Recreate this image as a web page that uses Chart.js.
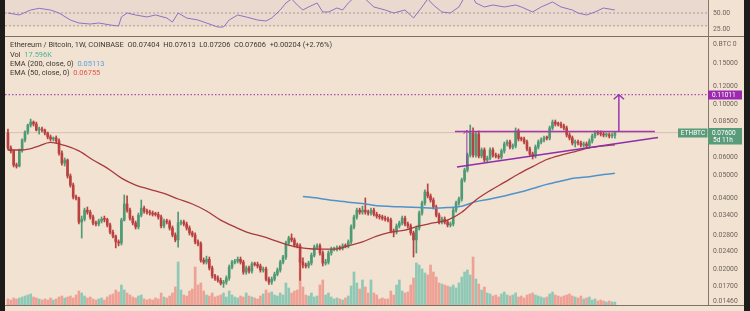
<!DOCTYPE html>
<html>
<head>
<meta charset="utf-8">
<title>ETHBTC 1W</title>
<script src="https://cdn.jsdelivr.net/npm/chart.js@4.4.1/dist/chart.umd.min.js"></script>
<style>
    body { margin: 0; width: 750px; height: 311px; background: #1d1c1b; position: relative; overflow: hidden; font-family: Roboto, "Liberation Sans", sans-serif; }
    canvas { display: block; }
    #frame { position: absolute; left: 5px; top: 0; width: 739px; height: 311px; background: #f1e2d2; }
    #rsiWrap { position: absolute; left: 5px; top: 0; }
    #mainWrap { position: absolute; left: 5px; top: 36px; }
    .hline { position: absolute; left: 5px; width: 739px; height: 1px; background: #7f7168; }
    #legend { position: absolute; left: 10px; top: 40.4px; font-size: 7.45px; line-height: 9.2px; color: #3c3835; white-space: pre; }
</style>
</head>
<body>
<div id="frame"></div>
<div id="rsiWrap"><canvas id="rsiChart" width="739" height="36"></canvas></div>
<div id="mainWrap"><canvas id="priceChart" width="739" height="275"></canvas></div>
<div class="hline" style="top:36px"></div>
<div class="hline" style="top:305px"></div>
<div id="legend"><div>Ethereum / Bitcoin, 1W, COINBASE  O0.07404  H0.07613  L0.07206  C0.07606  +0.00204 (+2.76%)</div><div>Vol  <span style="color:#4fb39b">17.596K</span></div><div>EMA (200, close, 0)  <span style="color:#5b9fe0">0.05113</span></div><div>EMA (50, close, 0)  <span style="color:#e0554e">0.06755</span></div></div>

<script>
// weekly candles, one entry per week (index = week number on the x axis)
const opens = [
    0.0758, 0.0655, 0.0636, 0.0554, 0.0549, 0.0642, 0.0708, 0.0765, 0.0819, 0.0843,
    0.0827, 0.0780, 0.0788, 0.0780, 0.0758, 0.0729, 0.0715, 0.0722, 0.0701, 0.0623,
    0.0565, 0.0582, 0.0498, 0.0456, 0.0406, 0.0402, 0.0318, 0.0327, 0.0357, 0.0350,
    0.0334, 0.0315, 0.0312, 0.0321, 0.0327, 0.0326, 0.0309, 0.0288, 0.0277, 0.0262,
    0.0259, 0.0324, 0.0379, 0.0357, 0.0330, 0.0315, 0.0303, 0.0340, 0.0364, 0.0354,
    0.0350, 0.0347, 0.0343, 0.0342, 0.0334, 0.0306, 0.0321, 0.0318, 0.0300, 0.0280,
    0.0267, 0.0315, 0.0318, 0.0312, 0.0300, 0.0286, 0.0280, 0.0262, 0.0257, 0.0219,
    0.0215, 0.0221, 0.0203, 0.0188, 0.0184, 0.0180, 0.0175, 0.0177, 0.0184, 0.0205,
    0.0215, 0.0217, 0.0221, 0.0215, 0.0195, 0.0203, 0.0197, 0.0211, 0.0210, 0.0207,
    0.0199, 0.0201, 0.0182, 0.0177, 0.0182, 0.0191, 0.0199, 0.0215, 0.0226, 0.0259,
    0.0272, 0.0267, 0.0254, 0.0252, 0.0215, 0.0209, 0.0207, 0.0213, 0.0230, 0.0249,
    0.0252, 0.0235, 0.0213, 0.0215, 0.0235, 0.0244, 0.0245, 0.0247, 0.0246, 0.0252,
    0.0251, 0.0262, 0.0303, 0.0334, 0.0357, 0.0350, 0.0357, 0.0351, 0.0347, 0.0357,
    0.0343, 0.0337, 0.0334, 0.0330, 0.0327, 0.0324, 0.0291, 0.0288, 0.0306, 0.0315,
    0.0330, 0.0312, 0.0306, 0.0286, 0.0267, 0.0300, 0.0347, 0.0383, 0.0426, 0.0410,
    0.0394, 0.0368, 0.0340, 0.0318, 0.0327, 0.0318, 0.0309, 0.0312, 0.0357, 0.0383,
    0.0398, 0.0479, 0.0528, 0.0611, 0.0758, 0.0611, 0.0750, 0.0605, 0.0642, 0.0582,
    0.0594, 0.0642, 0.0611, 0.0605, 0.0599, 0.0636, 0.0681, 0.0694, 0.0661, 0.0668,
    0.0773, 0.0715, 0.0714, 0.0694, 0.0648, 0.0617, 0.0605, 0.0661, 0.0694, 0.0708,
    0.0722, 0.0721, 0.0796, 0.0843, 0.0827, 0.0826, 0.0811, 0.0796, 0.0743, 0.0722,
    0.0687, 0.0694, 0.0688, 0.0674, 0.0681, 0.0668, 0.0701, 0.0736, 0.0758, 0.0757,
    0.0750, 0.0743, 0.0744, 0.0736, 0.07404
];
const highs = [
    0.0788, 0.0668, 0.0642, 0.0565, 0.0648, 0.0715, 0.0773, 0.0827, 0.0868, 0.0852,
    0.0843, 0.0803, 0.0803, 0.0788, 0.0765, 0.0743, 0.0729, 0.0736, 0.0715, 0.0636,
    0.0594, 0.0588, 0.0508, 0.0465, 0.0414, 0.0406, 0.0337, 0.0364, 0.0368, 0.0357,
    0.0340, 0.0321, 0.0327, 0.0334, 0.0337, 0.0330, 0.0315, 0.0294, 0.0280, 0.0267,
    0.0330, 0.0414, 0.0410, 0.0364, 0.0337, 0.0321, 0.0347, 0.0394, 0.0371, 0.0361,
    0.0357, 0.0354, 0.0350, 0.0350, 0.0340, 0.0327, 0.0327, 0.0324, 0.0306, 0.0286,
    0.0350, 0.0324, 0.0324, 0.0318, 0.0306, 0.0291, 0.0286, 0.0267, 0.0262, 0.0224,
    0.0228, 0.0226, 0.0207, 0.0191, 0.0188, 0.0184, 0.0180, 0.0188, 0.0209, 0.0219,
    0.0221, 0.0226, 0.0226, 0.0219, 0.0207, 0.0207, 0.0215, 0.0215, 0.0215, 0.0211,
    0.0205, 0.0205, 0.0186, 0.0186, 0.0195, 0.0203, 0.0219, 0.0230, 0.0264, 0.0277,
    0.0283, 0.0272, 0.0259, 0.0257, 0.0224, 0.0213, 0.0217, 0.0235, 0.0254, 0.0257,
    0.0257, 0.0240, 0.0221, 0.0240, 0.0249, 0.0249, 0.0252, 0.0252, 0.0257, 0.0257,
    0.0267, 0.0309, 0.0340, 0.0364, 0.0364, 0.0371, 0.0402, 0.0357, 0.0364, 0.0364,
    0.0350, 0.0343, 0.0340, 0.0337, 0.0334, 0.0330, 0.0297, 0.0312, 0.0321, 0.0337,
    0.0337, 0.0318, 0.0312, 0.0291, 0.0306, 0.0354, 0.0390, 0.0435, 0.0461, 0.0418,
    0.0402, 0.0375, 0.0347, 0.0334, 0.0334, 0.0324, 0.0318, 0.0364, 0.0390, 0.0406,
    0.0488, 0.0538, 0.0623, 0.0819, 0.0796, 0.0765, 0.0773, 0.0655, 0.0655, 0.0605,
    0.0655, 0.0655, 0.0623, 0.0617, 0.0648, 0.0694, 0.0708, 0.0708, 0.0681, 0.0796,
    0.0788, 0.0729, 0.0729, 0.0708, 0.0661, 0.0629, 0.0674, 0.0708, 0.0722, 0.0736,
    0.0736, 0.0811, 0.0860, 0.0860, 0.0843, 0.0843, 0.0827, 0.0811, 0.0758, 0.0736,
    0.0708, 0.0708, 0.0701, 0.0694, 0.0694, 0.0715, 0.0750, 0.0773, 0.0773, 0.0773,
    0.0765, 0.0758, 0.0758, 0.0758, 0.07613
];
const lows = [
    0.0642, 0.0623, 0.0544, 0.0538, 0.0544, 0.0629, 0.0694, 0.0750, 0.0803, 0.0811,
    0.0773, 0.0750, 0.0765, 0.0743, 0.0715, 0.0701, 0.0701, 0.0687, 0.0611, 0.0554,
    0.0549, 0.0488, 0.0447, 0.0398, 0.0394, 0.0312, 0.0272, 0.0321, 0.0343, 0.0327,
    0.0309, 0.0306, 0.0306, 0.0315, 0.0318, 0.0303, 0.0283, 0.0272, 0.0247, 0.0252,
    0.0254, 0.0321, 0.0350, 0.0324, 0.0309, 0.0297, 0.0297, 0.0334, 0.0347, 0.0343,
    0.0340, 0.0337, 0.0337, 0.0327, 0.0300, 0.0300, 0.0312, 0.0294, 0.0275, 0.0262,
    0.0249, 0.0309, 0.0306, 0.0294, 0.0280, 0.0275, 0.0257, 0.0252, 0.0215, 0.0211,
    0.0211, 0.0199, 0.0184, 0.0180, 0.0177, 0.0172, 0.0168, 0.0173, 0.0180, 0.0201,
    0.0211, 0.0213, 0.0211, 0.0191, 0.0191, 0.0193, 0.0193, 0.0207, 0.0203, 0.0195,
    0.0195, 0.0179, 0.0173, 0.0173, 0.0179, 0.0188, 0.0195, 0.0211, 0.0221, 0.0254,
    0.0262, 0.0249, 0.0247, 0.0180, 0.0203, 0.0203, 0.0203, 0.0209, 0.0226, 0.0244,
    0.0230, 0.0207, 0.0209, 0.0211, 0.0230, 0.0240, 0.0240, 0.0242, 0.0242, 0.0247,
    0.0247, 0.0257, 0.0297, 0.0327, 0.0343, 0.0343, 0.0343, 0.0340, 0.0340, 0.0337,
    0.0330, 0.0327, 0.0324, 0.0321, 0.0318, 0.0286, 0.0275, 0.0283, 0.0300, 0.0309,
    0.0306, 0.0300, 0.0280, 0.0226, 0.0235, 0.0294, 0.0340, 0.0375, 0.0402, 0.0386,
    0.0361, 0.0334, 0.0312, 0.0312, 0.0312, 0.0303, 0.0303, 0.0306, 0.0350, 0.0375,
    0.0390, 0.0470, 0.0518, 0.0599, 0.0599, 0.0599, 0.0594, 0.0594, 0.0571, 0.0571,
    0.0582, 0.0599, 0.0594, 0.0588, 0.0588, 0.0623, 0.0668, 0.0648, 0.0648, 0.0655,
    0.0701, 0.0701, 0.0681, 0.0636, 0.0605, 0.0588, 0.0594, 0.0648, 0.0681, 0.0694,
    0.0708, 0.0708, 0.0780, 0.0811, 0.0811, 0.0796, 0.0780, 0.0729, 0.0708, 0.0674,
    0.0661, 0.0674, 0.0661, 0.0661, 0.0655, 0.0655, 0.0687, 0.0722, 0.0743, 0.0736,
    0.0729, 0.0729, 0.0722, 0.0722, 0.07206
];
const closes = [
    0.0655, 0.0636, 0.0554, 0.0549, 0.0642, 0.0708, 0.0765, 0.0819, 0.0843, 0.0827,
    0.0780, 0.0788, 0.0780, 0.0758, 0.0729, 0.0715, 0.0722, 0.0701, 0.0623, 0.0565,
    0.0582, 0.0498, 0.0456, 0.0406, 0.0402, 0.0318, 0.0327, 0.0357, 0.0350, 0.0334,
    0.0315, 0.0312, 0.0321, 0.0327, 0.0326, 0.0309, 0.0288, 0.0277, 0.0262, 0.0259,
    0.0324, 0.0379, 0.0357, 0.0330, 0.0315, 0.0303, 0.0340, 0.0364, 0.0354, 0.0350,
    0.0347, 0.0343, 0.0342, 0.0334, 0.0306, 0.0321, 0.0318, 0.0300, 0.0280, 0.0267,
    0.0315, 0.0318, 0.0312, 0.0300, 0.0286, 0.0280, 0.0262, 0.0257, 0.0219, 0.0215,
    0.0221, 0.0203, 0.0188, 0.0184, 0.0180, 0.0175, 0.0177, 0.0184, 0.0205, 0.0215,
    0.0217, 0.0221, 0.0215, 0.0195, 0.0203, 0.0197, 0.0211, 0.0210, 0.0207, 0.0199,
    0.0201, 0.0182, 0.0177, 0.0182, 0.0191, 0.0199, 0.0215, 0.0226, 0.0259, 0.0272,
    0.0267, 0.0254, 0.0252, 0.0215, 0.0209, 0.0207, 0.0213, 0.0230, 0.0249, 0.0252,
    0.0235, 0.0213, 0.0215, 0.0235, 0.0244, 0.0245, 0.0247, 0.0246, 0.0252, 0.0251,
    0.0262, 0.0303, 0.0334, 0.0357, 0.0350, 0.0357, 0.0351, 0.0347, 0.0357, 0.0343,
    0.0337, 0.0334, 0.0330, 0.0327, 0.0324, 0.0291, 0.0288, 0.0306, 0.0315, 0.0330,
    0.0312, 0.0306, 0.0286, 0.0267, 0.0300, 0.0347, 0.0383, 0.0426, 0.0410, 0.0394,
    0.0368, 0.0340, 0.0318, 0.0327, 0.0318, 0.0309, 0.0312, 0.0357, 0.0383, 0.0398,
    0.0479, 0.0528, 0.0611, 0.0758, 0.0611, 0.0750, 0.0605, 0.0642, 0.0582, 0.0594,
    0.0642, 0.0611, 0.0605, 0.0599, 0.0636, 0.0681, 0.0694, 0.0661, 0.0668, 0.0773,
    0.0715, 0.0714, 0.0694, 0.0648, 0.0617, 0.0605, 0.0661, 0.0694, 0.0708, 0.0722,
    0.0721, 0.0796, 0.0843, 0.0827, 0.0826, 0.0811, 0.0796, 0.0743, 0.0722, 0.0687,
    0.0694, 0.0688, 0.0674, 0.0681, 0.0668, 0.0701, 0.0736, 0.0758, 0.0757, 0.0750,
    0.0743, 0.0744, 0.0736, 0.0740, 0.07606
];
// volume in thousands
const volumes = [
    36, 30, 42, 36, 42, 48, 54, 60, 66, 48,
    42, 36, 30, 36, 30, 42, 30, 36, 48, 54,
    42, 48, 54, 42, 60, 84, 72, 54, 42, 48,
    36, 30, 36, 42, 30, 48, 60, 66, 90, 78,
    120, 90, 72, 60, 48, 42, 54, 60, 36, 30,
    36, 30, 42, 36, 72, 48, 42, 54, 72, 108,
    258, 90, 60, 54, 84, 96, 228, 120, 132, 84,
    60, 54, 72, 48, 54, 60, 72, 48, 84, 60,
    48, 42, 54, 48, 72, 54, 48, 42, 36, 54,
    66, 90, 72, 78, 60, 54, 72, 60, 132, 102,
    72, 84, 90, 282, 108, 60, 54, 72, 48, 54,
    120, 150, 60, 72, 48, 36, 42, 36, 30, 42,
    54, 114, 198, 132, 96, 150, 108, 72, 150, 72,
    60, 36, 42, 36, 36, 84, 60, 120, 150, 84,
    72, 78, 120, 162, 252, 240, 216, 192, 180, 240,
    198, 168, 132, 126, 120, 114, 108, 120, 102, 132,
    168, 198, 210, 180, 288, 156, 126, 90, 108, 72,
    66, 54, 60, 48, 66, 78, 60, 54, 60, 72,
    48, 54, 42, 60, 66, 72, 60, 54, 48, 42,
    48, 66, 78, 60, 54, 48, 54, 60, 66, 54,
    48, 42, 54, 36, 42, 48, 30, 36, 24, 30,
    24, 18, 24, 18, 17.596
];

// moving averages, read every 5th week
const ema50Weeks = [0, 5, 10, 15, 20, 25, 30, 35, 40, 45, 50, 55, 60, 65, 70, 75, 80, 85, 90, 95, 100, 105, 110,
    115, 120, 125, 130, 135, 140, 145, 150, 155, 160, 165, 170, 175, 180, 185, 190, 195, 200, 205, 210, 214];
const ema50Values = [0.0642, 0.0642, 0.0661, 0.0691, 0.0671, 0.0636, 0.0582, 0.0538, 0.0488, 0.0456, 0.0437, 0.0420,
    0.0398, 0.0379, 0.0354, 0.0324, 0.0303, 0.0286, 0.0276, 0.0263, 0.0252, 0.0246, 0.0244, 0.0244, 0.0252, 0.0262,
    0.0277, 0.0288, 0.0294, 0.0306, 0.0315, 0.0324, 0.0350, 0.0394, 0.0432, 0.0468, 0.0508, 0.0546, 0.0585, 0.0611,
    0.0632, 0.0655, 0.0668, 0.06755];
const ema200Weeks = [104, 110, 115, 120, 125, 130, 135, 140, 145, 150, 155, 160, 165, 170, 175, 180, 185, 190, 195,
    200, 205, 210, 214];
const ema200Values = [0.0408, 0.0400, 0.0392, 0.0386, 0.0381, 0.0373, 0.0370, 0.0368, 0.0366, 0.0364, 0.0366, 0.0371,
    0.0388, 0.0398, 0.0410, 0.0424, 0.0441, 0.0459, 0.0474, 0.0488, 0.0495, 0.0505, 0.05113];

const rsiWeeks = [0, 4, 8, 11, 15, 18, 22, 25, 29, 32, 36, 39, 40, 42, 45, 49, 52, 56, 58, 60, 63, 67, 70, 74, 76, 78,
    81, 84, 88, 91, 93, 96, 98, 100, 102, 104, 106, 109, 111, 113, 116, 118, 120, 122, 124, 126, 129, 133, 136, 140,
    143, 146, 148, 150, 153, 156, 159, 161, 163, 165, 168, 171, 175, 179, 181, 185, 188, 192, 195, 199, 201, 204,
    207, 210, 214];
const rsiValues = [50, 46.9, 54.7, 57.3, 54.7, 50, 39.1, 34.4, 32.8, 34.4, 31.3, 29.7, 43.8, 50, 46.9, 43.8, 46.9,
    42.2, 35.9, 50, 42.2, 39.1, 34.4, 28.1, 28.1, 39.1, 46.9, 43.8, 39.1, 37.5, 42.2, 54.7, 65.6, 72, 62.5, 54.7,
    59.4, 65.6, 51.6, 51.6, 57.8, 54.7, 65.6, 74, 76, 72, 59.4, 54.7, 50, 54.7, 42.2, 59.4, 72, 62.5, 51.6, 50, 59.4,
    75, 82, 65.6, 59.4, 62.5, 59.4, 62.5, 59.4, 51.6, 59.4, 67.2, 59.4, 54.7, 50, 46.9, 51.6, 57.8, 54.7];

// price axis labels
const priceTicks = [0.18, 0.15, 0.12, 0.10, 0.085, 0.06, 0.05, 0.04, 0.034, 0.028, 0.024, 0.02, 0.017, 0.0146];
const rsiTicks = [50, 25];

// drawings on the chart: [week, price]
const resistance = [[157.6, 0.0768], [228.1, 0.0768]];
const support = [[158.3, 0.0544], [229.2, 0.0725]];
const bigArrow = [[215.4, 0.0768], [215.4, 0.1101]];
const bigArrowHead = [[213.6, 0.1053], [215.4, 0.1101], [217.2, 0.1053]];
const smallArrow = [[161.8, 0.0544], [161.8, 0.0778]];
const smallArrowHead = [[160.7, 0.0752], [161.8, 0.0778], [162.9, 0.0752]];

const targetPrice = 0.11011;
const lastPrice = 0.07606;

const xMin = -1.05, xMax = 246.83;
const green = '#4e9a74', red = '#b9413f';

function pts(list) {
    return list.map(p => ({ x: p[0], y: p[1] }));
}

function flatLine(value) {
    return [{ x: xMin, y: value }, { x: xMax, y: value }];
}

// right axis: fixed width, no extra room above/below for the labels
function fitAxis(s) {
    s.width = 36;
    s.paddingTop = 0;
    s.paddingBottom = 0;
}

const priceTags = {
    id: 'priceTags',
    afterDraw(chart) {
        const c = chart.ctx;
        const area = chart.chartArea;
        const yScale = chart.scales.y;
        const yTarget = Math.round(yScale.getPixelForValue(targetPrice));
        const yLast = Math.round(yScale.getPixelForValue(lastPrice));
        c.save();
        c.font = '6.5px Roboto';
        c.textBaseline = 'middle';
        c.fillStyle = '#9c2aaf';
        c.fillRect(area.right, yTarget - 4.5, 34, 9);
        c.fillStyle = '#ffffff';
        c.fillText('0.11011', area.right + 4, yTarget);
        c.fillStyle = '#5a9b7a';
        c.fillRect(area.right, yLast - 5, 34, 16.5);
        c.fillRect(area.right - 30, yLast - 4.5, 29.5, 9);
        c.fillStyle = '#ffffff';
        c.fillText('0.07600', area.right + 4, yLast);
        c.fillText('5d 11h', area.right + 5, yLast + 7.5);
        c.textAlign = 'center';
        c.fillText('ETHBTC', area.right - 15, yLast);
        c.restore();
    }
};

function loadPriceChart() {
    let ctx = document.getElementById('priceChart');
    const up = closes.map((c, i) => c >= opens[i]);

    new Chart(ctx, {
        type: 'bar',
        data: {
            datasets: [
                { type: 'line', data: flatLine(targetPrice), borderColor: '#9c27b0', borderWidth: 1, borderDash: [1.5, 2], pointRadius: 0, order: 1 },
                { type: 'line', data: pts(resistance), borderColor: '#a23aa8', borderWidth: 1.5, pointRadius: 0, order: 1 },
                { type: 'line', data: pts(support), borderColor: '#8e2fa8', borderWidth: 1.5, pointRadius: 0, order: 1 },
                { type: 'line', data: pts(bigArrow), borderColor: '#9a36b0', borderWidth: 1.5, pointRadius: 0, order: 1 },
                { type: 'line', data: pts(bigArrowHead), borderColor: '#9a36b0', borderWidth: 1.5, pointRadius: 0, order: 1 },
                { type: 'line', data: pts(smallArrow), borderColor: '#9a36b0', borderWidth: 1, pointRadius: 0, order: 1 },
                { type: 'line', data: pts(smallArrowHead), borderColor: '#9a36b0', borderWidth: 1, pointRadius: 0, order: 1 },
                {
                    type: 'line', data: ema50Weeks.map((w, i) => ({ x: w, y: ema50Values[i] })),
                    borderColor: '#a83a3c', borderWidth: 1.3, pointRadius: 0, cubicInterpolationMode: 'monotone', order: 2
                },
                {
                    type: 'line', data: ema200Weeks.map((w, i) => ({ x: w, y: ema200Values[i] })),
                    borderColor: '#4f93cb', borderWidth: 1.5, pointRadius: 0, cubicInterpolationMode: 'monotone', order: 3
                },
                {
                    data: closes.map((c, i) => ({ x: i, y: [opens[i], c] })),
                    backgroundColor: up.map(u => u ? green : red),
                    barThickness: 2, minBarLength: 1, grouped: false, order: 4
                },
                {
                    data: lows.map((l, i) => ({ x: i, y: [l, highs[i]] })),
                    backgroundColor: up.map(u => u ? green : red),
                    barThickness: 1, grouped: false, order: 5
                },
                { type: 'line', data: flatLine(lastPrice), borderColor: 'rgba(170,130,120,0.35)', borderWidth: 1, pointRadius: 0, order: 6 },
                {
                    data: volumes.map((v, i) => ({ x: i, y: v })), yAxisID: 'vol',
                    backgroundColor: up.map(u => u ? '#8fc8b5' : '#eea195'),
                    barThickness: 2, grouped: false, order: 7
                }
            ]
        },
        options: {
            responsive: false,
            animation: false,
            devicePixelRatio: 1,
            layout: { autoPadding: false, padding: { left: 0, right: 0, top: 0, bottom: 6 } },
            plugins: { legend: { display: false }, tooltip: { enabled: false } },
            scales: {
                x: { type: 'linear', display: false, offset: false, min: xMin, max: xMax },
                y: {
                    type: 'logarithmic', position: 'right', min: 0.01415, max: 0.1952,
                    grid: { display: false, drawTicks: false },
                    border: { display: true, color: '#85776d' },
                    afterFit: fitAxis,
                    afterBuildTicks: s => { s.ticks = priceTicks.map(v => ({ value: v })); },
                    ticks: {
                        autoSkip: false, padding: 5, color: '#6f645d',
                        font: { size: 6.8, family: 'Roboto' },
                        callback: v => v === 0.18 ? '0.BTC 0' : Number(v).toFixed(5)
                    }
                },
                vol: { type: 'linear', display: false, min: 0, max: 1614 }
            }
        },
        plugins: [priceTags]
    });
}

function loadRsiChart() {
    let ctx = document.getElementById('rsiChart');

    new Chart(ctx, {
        type: 'line',
        data: {
            datasets: [
                { data: rsiWeeks.map((w, i) => ({ x: w, y: rsiValues[i] })), borderColor: '#8d72c2', borderWidth: 1, pointRadius: 0, order: 1 },
                { data: flatLine(70), borderWidth: 0, pointRadius: 0, order: 3 },
                {
                    data: flatLine(30), borderColor: '#ad9a92', borderWidth: 1, borderDash: [2, 2], pointRadius: 0,
                    fill: '-1', backgroundColor: 'rgba(150,110,170,0.08)', order: 2
                },
                { data: flatLine(50), borderColor: '#ad9a92', borderWidth: 1, borderDash: [2, 2], pointRadius: 0, order: 2 }
            ]
        },
        options: {
            responsive: false,
            animation: false,
            devicePixelRatio: 1,
            layout: { autoPadding: false, padding: 0 },
            plugins: { legend: { display: false }, tooltip: { enabled: false } },
            scales: {
                x: { type: 'linear', display: false, min: xMin, max: xMax },
                y: {
                    position: 'right', min: 14.1, max: 70.3,
                    grid: { display: false, drawTicks: false },
                    border: { display: true, color: '#85776d' },
                    afterFit: fitAxis,
                    afterBuildTicks: s => { s.ticks = rsiTicks.map(v => ({ value: v })); },
                    ticks: {
                        autoSkip: false, padding: 5, color: '#6f645d',
                        font: { size: 6.8, family: 'Roboto' },
                        callback: v => Number(v).toFixed(2)
                    }
                }
            }
        }
    });
}

loadRsiChart();
loadPriceChart();
</script>
</body>
</html>
